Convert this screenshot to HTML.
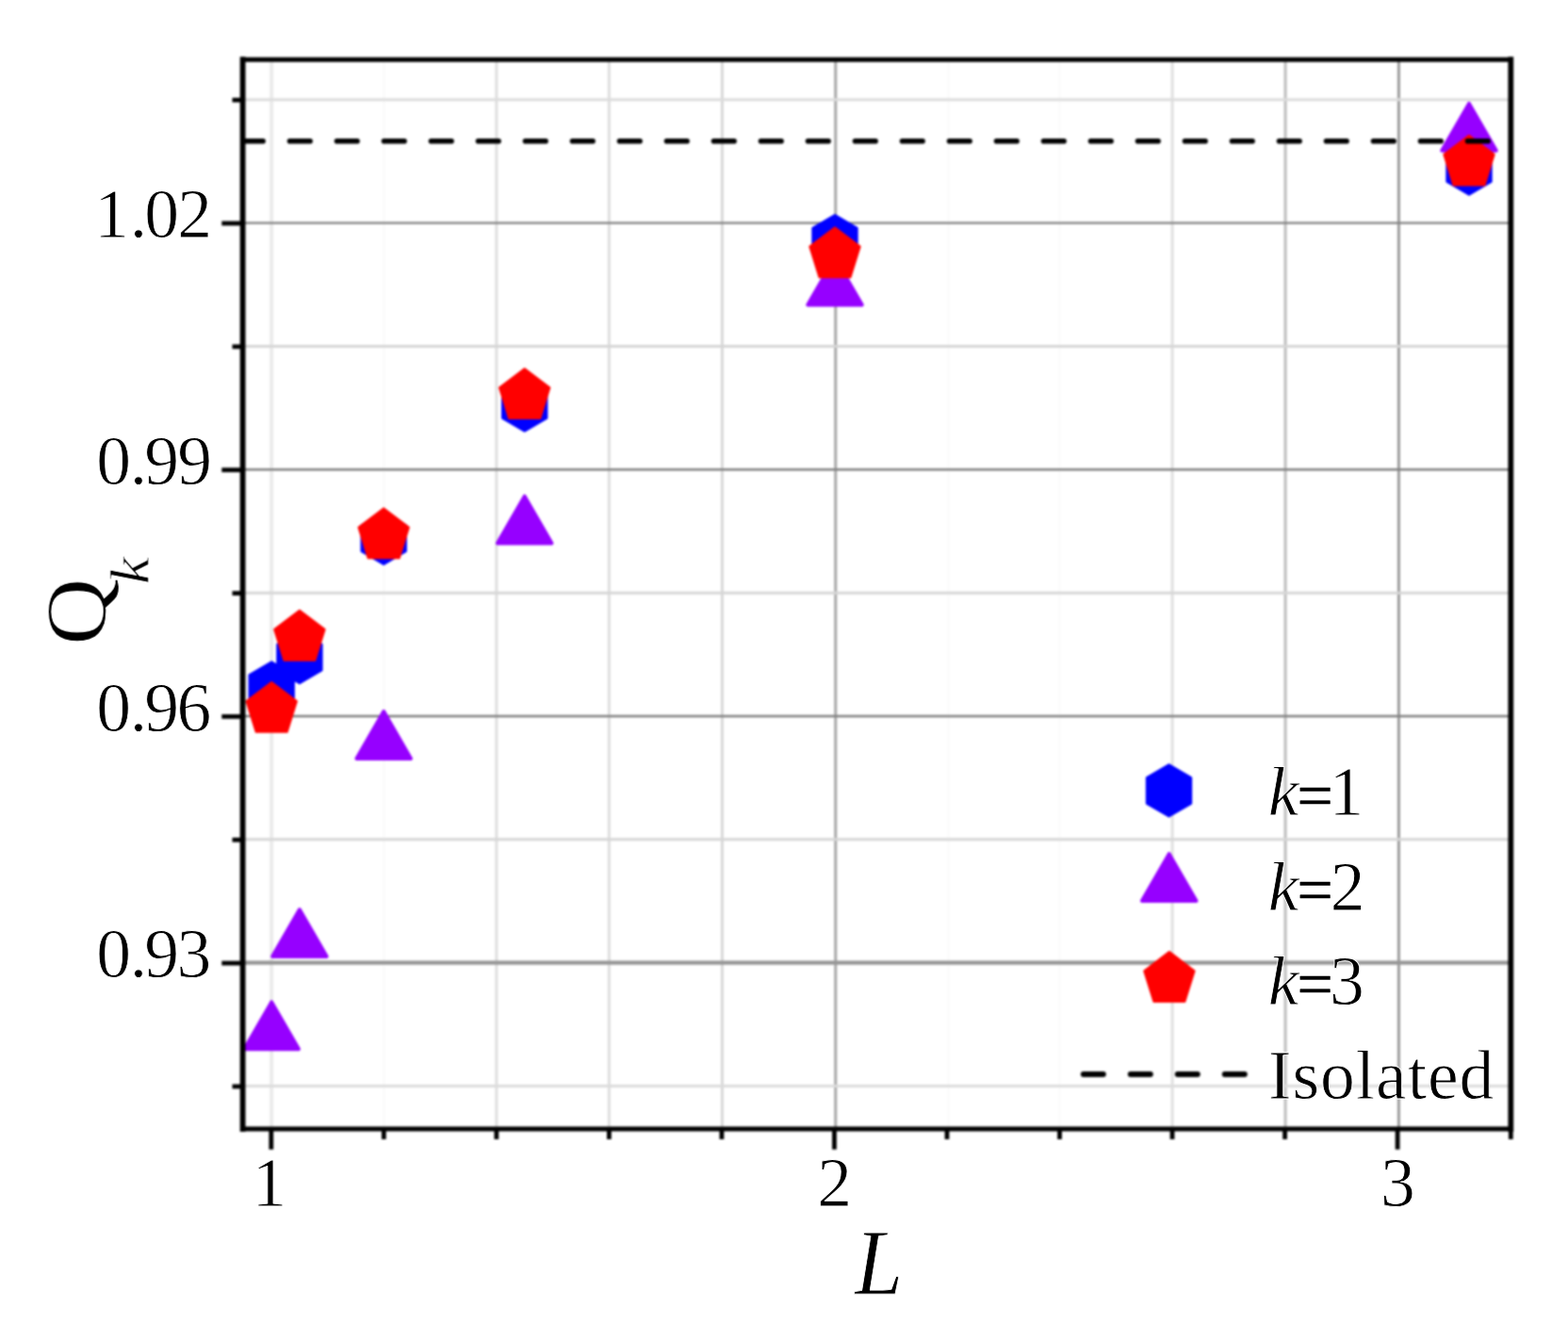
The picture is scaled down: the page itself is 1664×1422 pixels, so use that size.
<!DOCTYPE html>
<html lang="en"><head><meta charset="utf-8"><title>Q_k versus L</title>
<style>
html,body{margin:0;padding:0;background:#fff;}
body{width:1664px;height:1422px;overflow:hidden;}
svg{display:block;}
text{font-family:"Liberation Serif","DejaVu Serif",serif;fill:#000;stroke:#fff;stroke-width:0.8px;stroke-linejoin:round;}
.it{font-style:italic;}
</style></head><body>
<svg width="1664" height="1422" viewBox="0 0 1664 1422" role="img" aria-label="Q k versus L scatter plot">
<rect x="0" y="0" width="1664" height="1422" fill="#ffffff"/>
<defs>
<clipPath id="plotclip"><rect x="257.6" y="63.2" width="1345.7" height="1134.8"/></clipPath>
<filter id="soft" filterUnits="userSpaceOnUse" x="0" y="0" width="1664" height="1422" color-interpolation-filters="sRGB"><feGaussianBlur stdDeviation="0.8"/></filter>
<filter id="softtext" filterUnits="userSpaceOnUse" x="0" y="0" width="1664" height="1422" color-interpolation-filters="sRGB"><feGaussianBlur stdDeviation="0.45"/></filter>
</defs>
<g id="figure" filter="url(#soft)">
<rect x="0" y="0" width="1664" height="1422" fill="#ffffff"/>
<g id="grid" fill="none">
<line x1="288.10" y1="63.2" x2="288.10" y2="1198.0" stroke="#ebebeb" stroke-width="4.0"/>
<line x1="407.33" y1="63.2" x2="407.33" y2="1198.0" stroke="#fbfbfb" stroke-width="3.0"/>
<line x1="526.86" y1="63.2" x2="526.86" y2="1198.0" stroke="#dedede" stroke-width="3.0"/>
<line x1="646.39" y1="63.2" x2="646.39" y2="1198.0" stroke="#dedede" stroke-width="3.0"/>
<line x1="766.42" y1="63.2" x2="766.42" y2="1198.0" stroke="#d8d8d8" stroke-width="3.0"/>
<line x1="886.75" y1="63.2" x2="886.75" y2="1198.0" stroke="#a8a8a8" stroke-width="3.0"/>
<line x1="1006.48" y1="63.2" x2="1006.48" y2="1198.0" stroke="#fcfcfc" stroke-width="3.0"/>
<line x1="1124.51" y1="63.2" x2="1124.51" y2="1198.0" stroke="#fcfcfc" stroke-width="3.0"/>
<line x1="1244.04" y1="63.2" x2="1244.04" y2="1198.0" stroke="#e0e0e0" stroke-width="3.0"/>
<line x1="1364.07" y1="63.2" x2="1364.07" y2="1198.0" stroke="#bdbdbd" stroke-width="3.0"/>
<line x1="1484.40" y1="63.2" x2="1484.40" y2="1198.0" stroke="#9c9c9c" stroke-width="3.0"/>
<line x1="257.6" y1="105.75" x2="1603.3" y2="105.75" stroke="#dcdcdc" stroke-width="3.0"/>
<line x1="257.6" y1="236.60" x2="1603.3" y2="236.60" stroke="#808080" stroke-width="2.4"/>
<line x1="257.6" y1="367.45" x2="1603.3" y2="367.45" stroke="#d6d6d6" stroke-width="3.0"/>
<line x1="257.6" y1="498.30" x2="1603.3" y2="498.30" stroke="#808080" stroke-width="2.4"/>
<line x1="257.6" y1="629.15" x2="1603.3" y2="629.15" stroke="#d6d6d6" stroke-width="3.0"/>
<line x1="257.6" y1="760.00" x2="1603.3" y2="760.00" stroke="#808080" stroke-width="2.4"/>
<line x1="257.6" y1="890.85" x2="1603.3" y2="890.85" stroke="#d6d6d6" stroke-width="3.0"/>
<line x1="257.6" y1="1021.70" x2="1603.3" y2="1021.70" stroke="#969696" stroke-width="4.2"/>
<line x1="257.6" y1="1152.55" x2="1603.3" y2="1152.55" stroke="#dcdcdc" stroke-width="3.0"/>
</g>
<g id="series" clip-path="url(#plotclip)">
<g id="k1">
<polygon points="288.20,702.50 311.69,716.20 311.69,743.60 288.20,757.30 264.71,743.60 264.71,716.20" fill="#0000ff" stroke="#0000ff" stroke-width="2.4" stroke-linejoin="round"/>
<polygon points="317.90,670.20 341.39,683.90 341.39,711.30 317.90,725.00 294.41,711.30 294.41,683.90" fill="#0000ff" stroke="#0000ff" stroke-width="2.4" stroke-linejoin="round"/>
<polygon points="407.20,543.90 430.69,557.60 430.69,585.00 407.20,598.70 383.71,585.00 383.71,557.60" fill="#0000ff" stroke="#0000ff" stroke-width="2.4" stroke-linejoin="round"/>
<polygon points="556.70,402.60 580.19,416.30 580.19,443.70 556.70,457.40 533.21,443.70 533.21,416.30" fill="#0000ff" stroke="#0000ff" stroke-width="2.4" stroke-linejoin="round"/>
<polygon points="886.00,228.30 909.49,242.00 909.49,269.40 886.00,283.10 862.51,269.40 862.51,242.00" fill="#0000ff" stroke="#0000ff" stroke-width="2.4" stroke-linejoin="round"/>
<polygon points="1559.00,151.70 1582.49,165.40 1582.49,192.80 1559.00,206.50 1535.51,192.80 1535.51,165.40" fill="#0000ff" stroke="#0000ff" stroke-width="2.4" stroke-linejoin="round"/>
</g><g id="k2">
<polygon points="288.20,1063.40 316.95,1113.20 259.45,1113.20" fill="#9600ff" stroke="#9600ff" stroke-width="4" stroke-linejoin="round"/>
<polygon points="317.90,965.30 346.65,1015.10 289.15,1015.10" fill="#9600ff" stroke="#9600ff" stroke-width="4" stroke-linejoin="round"/>
<polygon points="407.20,755.10 435.95,804.90 378.45,804.90" fill="#9600ff" stroke="#9600ff" stroke-width="4" stroke-linejoin="round"/>
<polygon points="556.70,526.70 585.45,576.50 527.95,576.50" fill="#9600ff" stroke="#9600ff" stroke-width="4" stroke-linejoin="round"/>
<polygon points="886.00,273.70 914.75,323.50 857.25,323.50" fill="#9600ff" stroke="#9600ff" stroke-width="4" stroke-linejoin="round"/>
<polygon points="1559.00,109.90 1587.75,159.70 1530.25,159.70" fill="#9600ff" stroke="#9600ff" stroke-width="4" stroke-linejoin="round"/>
</g><g id="k3">
<polygon points="288.20,724.20 314.68,744.24 304.56,776.66 271.84,776.66 261.72,744.24" fill="#ff0000" stroke="#ff0000" stroke-width="2.4" stroke-linejoin="round"/>
<polygon points="317.90,648.00 344.38,668.04 334.26,700.46 301.54,700.46 291.42,668.04" fill="#ff0000" stroke="#ff0000" stroke-width="2.4" stroke-linejoin="round"/>
<polygon points="407.20,539.60 433.68,559.64 423.56,592.06 390.84,592.06 380.72,559.64" fill="#ff0000" stroke="#ff0000" stroke-width="2.4" stroke-linejoin="round"/>
<polygon points="556.70,391.40 583.18,411.44 573.06,443.86 540.34,443.86 530.22,411.44" fill="#ff0000" stroke="#ff0000" stroke-width="2.4" stroke-linejoin="round"/>
<polygon points="886.00,241.60 912.48,261.64 902.36,294.06 869.64,294.06 859.52,261.64" fill="#ff0000" stroke="#ff0000" stroke-width="2.4" stroke-linejoin="round"/>
<polygon points="1559.00,143.90 1585.48,163.94 1575.36,196.36 1542.64,196.36 1532.52,163.94" fill="#ff0000" stroke="#ff0000" stroke-width="2.4" stroke-linejoin="round"/>
</g>
<line x1="255.8" y1="149.7" x2="1603.3" y2="149.7" stroke="#000" stroke-width="5.6" stroke-linecap="round" stroke-dasharray="21.6 28.4" stroke-dashoffset="-1.7"/>
</g>
<g id="frame" stroke="#000" fill="none" stroke-linecap="square">
<line x1="257.6" y1="63.2" x2="257.6" y2="1198.0" stroke-width="5.8"/>
<line x1="1603.3" y1="63.2" x2="1603.3" y2="1198.0" stroke-width="5.8"/>
<line x1="257.6" y1="63.2" x2="1603.3" y2="63.2" stroke-width="5.0"/>
<line x1="257.6" y1="1198.0" x2="1603.3" y2="1198.0" stroke-width="5.2"/>
</g>
<g id="ticks" stroke="#000" stroke-width="4.8" fill="none">
<line x1="287.80" y1="1198.0" x2="287.80" y2="1219.8"/>
<line x1="407.33" y1="1198.0" x2="407.33" y2="1209.0"/>
<line x1="526.86" y1="1198.0" x2="526.86" y2="1209.0"/>
<line x1="646.39" y1="1198.0" x2="646.39" y2="1209.0"/>
<line x1="765.92" y1="1198.0" x2="765.92" y2="1209.0"/>
<line x1="885.45" y1="1198.0" x2="885.45" y2="1219.8"/>
<line x1="1004.98" y1="1198.0" x2="1004.98" y2="1209.0"/>
<line x1="1124.51" y1="1198.0" x2="1124.51" y2="1209.0"/>
<line x1="1244.04" y1="1198.0" x2="1244.04" y2="1209.0"/>
<line x1="1363.57" y1="1198.0" x2="1363.57" y2="1209.0"/>
<line x1="1483.10" y1="1198.0" x2="1483.10" y2="1219.8"/>
<line x1="1603.30" y1="1198.0" x2="1603.30" y2="1209.0"/>
<line x1="246.5" y1="106.15" x2="257.6" y2="106.15"/>
<line x1="235.3" y1="237.00" x2="257.6" y2="237.00"/>
<line x1="246.5" y1="367.85" x2="257.6" y2="367.85"/>
<line x1="235.3" y1="498.70" x2="257.6" y2="498.70"/>
<line x1="246.5" y1="629.55" x2="257.6" y2="629.55"/>
<line x1="235.3" y1="760.40" x2="257.6" y2="760.40"/>
<line x1="246.5" y1="891.25" x2="257.6" y2="891.25"/>
<line x1="235.3" y1="1022.10" x2="257.6" y2="1022.10"/>
<line x1="246.5" y1="1152.95" x2="257.6" y2="1152.95"/>
</g>
<g id="legendmarks">
<polygon points="1240.50,811.50 1263.99,825.20 1263.99,852.60 1240.50,866.30 1217.01,852.60 1217.01,825.20" fill="#0000ff" stroke="#0000ff" stroke-width="2.4" stroke-linejoin="round"/>
<polygon points="1240.70,906.20 1269.45,956.00 1211.95,956.00" fill="#9600ff" stroke="#9600ff" stroke-width="4" stroke-linejoin="round"/>
<polygon points="1240.90,1010.30 1267.38,1030.34 1257.26,1062.76 1224.54,1062.76 1214.42,1030.34" fill="#ff0000" stroke="#ff0000" stroke-width="2.4" stroke-linejoin="round"/>
<line x1="1149.8" y1="1140" x2="1321.5" y2="1140" stroke="#000" stroke-width="6" stroke-linecap="round" stroke-dasharray="21 29"/>
</g>
</g>
<g id="labels" filter="url(#softtext)">
<g id="ylabels">
<text x="100.37 137.80 153.30 188.35" y="252.20" font-size="73.6">1.02</text>
<text x="102.35 137.80 153.18 188.28" y="513.90" font-size="73.6">0.99</text>
<text x="102.35 137.80 153.18 187.47" y="775.60" font-size="73.6">0.96</text>
<text x="102.35 137.80 153.18 187.62" y="1037.30" font-size="73.6">0.93</text>
</g>
<g id="xlabels">
<text x="267.62" y="1280.00" font-size="73.6">1</text>
<text x="867.20" y="1280.00" font-size="73.6">2</text>
<text x="1464.97" y="1280.00" font-size="73.6">3</text>
</g>
<text class="it" x="0" y="0" font-size="99" stroke-width="1.2" transform="translate(907.5,1372.8) scale(0.92,1)">L</text>
<text font-size="91" transform="translate(111.7,684.6) rotate(-90) scale(1.085,1)"><tspan x="0" y="0" stroke-width="1.0">Q</tspan><tspan class="it" font-size="60" x="59.6" y="45.6">k</tspan></text>
<g id="legend">
<text y="865.3" font-size="73.6"><tspan class="it" x="1345.7">k</tspan><tspan x="1376.47" dy="1.6" font-size="67.71" stroke="#000" stroke-width="0.5">=</tspan><tspan x="1410.42" dy="-1.6" font-size="73.6">1</tspan></text>
<text y="965.8" font-size="73.6"><tspan class="it" x="1345.7">k</tspan><tspan x="1376.47" dy="1.6" font-size="67.71" stroke="#000" stroke-width="0.5">=</tspan><tspan x="1411.70" dy="-1.6" font-size="73.6">2</tspan></text>
<text y="1065.6" font-size="73.6"><tspan class="it" x="1345.7">k</tspan><tspan x="1376.47" dy="1.6" font-size="67.71" stroke="#000" stroke-width="0.5">=</tspan><tspan x="1410.97" dy="-1.6" font-size="73.6">3</tspan></text>
<text x="1346.0" y="1166.0" font-size="73.6" textLength="239.4" lengthAdjust="spacing">Isolated</text>
</g>
</g>
</svg>
</body></html>
